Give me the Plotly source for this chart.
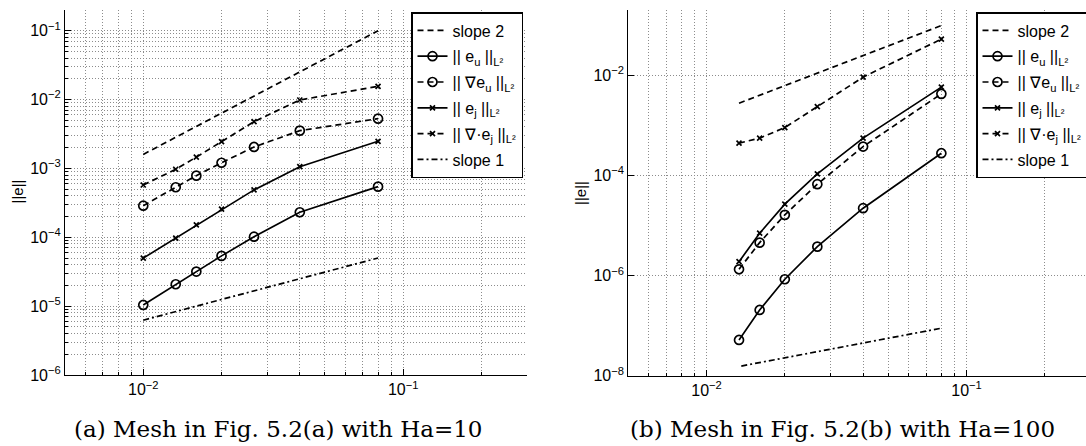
import math
import plotly.graph_objects as go

W, H = 1086, 446

# ---------------- data ----------------
h_a = [0.01, 0.01333, 0.016, 0.02, 0.02667, 0.04, 0.08]
eu_a = [1.04e-5, 2.08e-5, 3.18e-5, 5.37e-5, 1.02e-4, 2.31e-4, 5.44e-4]
geu_a = [2.88e-4, 5.33e-4, 7.86e-4, 1.21e-3, 2.05e-3, 3.54e-3, 5.28e-3]
ej_a = [4.98e-5, 9.7e-5, 1.51e-4, 2.56e-4, 4.88e-4, 1.06e-3, 2.48e-3]
dej_a = [5.75e-4, 9.73e-4, 1.46e-3, 2.45e-3, 4.78e-3, 9.86e-3, 1.56e-2]
s2_x_a = [0.01, 0.08]
s2_y_a = [1.6e-3, 0.1]
s1_x_a = [0.01, 0.08]
s1_y_a = [6.25e-6, 5.0e-5]

h_b = [0.01333, 0.016, 0.02, 0.02667, 0.04, 0.08]
eu_b = [5.18e-8, 2.06e-7, 8.47e-7, 3.8e-6, 2.23e-5, 2.8e-4]
geu_b = [1.34e-6, 4.57e-6, 1.64e-5, 6.73e-5, 3.8e-4, 4.3e-3]
ej_b = [1.9e-6, 7.05e-6, 2.68e-5, 1.08e-4, 5.6e-4, 5.86e-3]
dej_b = [4.45e-4, 5.6e-4, 9.1e-4, 2.4e-3, 9.3e-3, 5.35e-2]
s2_x_b = [0.01333, 0.08]
s2_y_b = [2.8e-3, 0.1]
s1_x_b = [0.0136, 0.08]
s1_y_b = [1.56e-8, 8.9e-8]

names = ["slope 2",
         "|| e<sub>u</sub> ||<sub>L²</sub>",
         "|| ∇e<sub>u</sub> ||<sub>L²</sub>",
         "|| e<sub>j</sub> ||<sub>L²</sub>",
         "|| ∇·e<sub>j</sub> ||<sub>L²</sub>",
         "slope 1"]

x_ticks = [0.01, 0.1]
x_ticktext = ["10<sup>−2</sup>", "10<sup>−1</sup>"]
ya_ticks = [1e-6, 1e-5, 1e-4, 1e-3, 1e-2, 1e-1]
ya_ticktext = ["10<sup>−6</sup>", "10<sup>−5</sup>", "10<sup>−4</sup>",
               "10<sup>−3</sup>", "10<sup>−2</sup>", "10<sup>−1</sup>"]
yb_ticks = [1e-8, 1e-6, 1e-4, 1e-2]
yb_ticktext = ["10<sup>−8</sup>", "10<sup>−6</sup>", "10<sup>−4</sup>", "10<sup>−2</sup>"]

captions = ["(a) Mesh in Fig. 5.2(a) with Ha=10", "(b) Mesh in Fig. 5.2(b) with Ha=100"]
ylabel = "||e||"

# ---------------- styling ----------------
SANS = "Liberation Sans, Arial, Helvetica, sans-serif"
SERIF = "DejaVu Serif, serif"
DASH = "6px,4px"
DASHDOT = "6px,3px,2px,3px"
LW = 1.7
GRID = "#8c8c8c"
GDASH = "1px,2px"

fig = go.Figure()


def add(x, y, name, dash, symbol, xa, ya, legend, gid):
    kw = dict(x=x, y=y, name=name, xaxis=xa, yaxis=ya, legend=legend,
              legendgroup=gid,
              line=dict(color="black", width=LW, dash=dash))
    if symbol is None:
        kw["mode"] = "lines"
    else:
        kw["mode"] = "lines+markers"
        if symbol == "o":
            kw["marker"] = dict(symbol="circle-open", size=9, color="black",
                                line=dict(color="black", width=LW))
        else:
            kw["marker"] = dict(symbol="x-thin-open", size=5, color="black",
                                line=dict(color="black", width=LW))
    fig.add_trace(go.Scatter(**kw))


panels = [
    ("x", "y", "legend", h_a, eu_a, geu_a, ej_a, dej_a, s2_x_a, s2_y_a, s1_x_a, s1_y_a),
    ("x2", "y2", "legend2", h_b, eu_b, geu_b, ej_b, dej_b, s2_x_b, s2_y_b, s1_x_b, s1_y_b),
]
for k, (xa, ya, lg, h, eu, geu, ej, dej, s2x, s2y, s1x, s1y) in enumerate(panels):
    add(s2x, s2y, names[0], DASH, None, xa, ya, lg, f"g{k}0")
    add(h, eu, names[1], "solid", "o", xa, ya, lg, f"g{k}1")
    add(h, geu, names[2], DASH, "o", xa, ya, lg, f"g{k}2")
    add(h, ej, names[3], "solid", "x", xa, ya, lg, f"g{k}3")
    add(h, dej, names[4], DASH, "x", xa, ya, lg, f"g{k}4")
    add(s1x, s1y, names[5], DASHDOT, None, xa, ya, lg, f"g{k}5")


def minor_vals(lo_exp, hi_exp, extra=()):
    v = []
    for e in range(lo_exp, hi_exp + 1):
        for m in range(2, 10):
            v.append(m * 10.0 ** e)
    return v + list(extra)


def xaxis(domain, rng):
    return dict(type="log", domain=domain, range=rng,
                tickmode="array", tickvals=x_ticks, ticktext=x_ticktext,
                showgrid=True, gridcolor=GRID, griddash=GDASH, gridwidth=1,
                minor=dict(tickmode="array", tickvals=minor_vals(-3, -2, [0.2, 0.3]),
                           showgrid=True, gridcolor=GRID, griddash=GDASH, gridwidth=1,
                           ticks="inside", ticklen=3, tickcolor="black"),
                showline=True, linecolor="black", linewidth=1.2,
                ticks="inside", ticklen=6, tickcolor="black",
                zeroline=False, mirror=False,
                tickfont=dict(family=SANS, size=16, color="black"))


y_top = (H - 10) / H
y_bot_a = (H - 375) / H
y_bot_b = (H - 375.7) / H

fig.update_layout(
    width=W, height=H,
    margin=dict(l=0, r=0, t=0, b=0, autoexpand=False),
    paper_bgcolor="white", plot_bgcolor="white",
    font=dict(family=SANS, size=16, color="black"),
    xaxis=xaxis([65 / W, 527.3 / W], [math.log10(0.005), math.log10(0.3)]),
    xaxis2=dict(xaxis([628.3 / W, 1.0], [math.log10(0.005), -0.5406]), anchor="y2"),
    yaxis=dict(type="log", domain=[y_bot_a, y_top], range=[-6, math.log10(0.2)],
               tickmode="array", tickvals=ya_ticks, ticktext=ya_ticktext,
               showgrid=True, gridcolor=GRID, griddash=GDASH, gridwidth=1,
               minor=dict(tickmode="array", tickvals=minor_vals(-6, -2, [0.2]),
                          showgrid=True, gridcolor=GRID, griddash=GDASH, gridwidth=1,
                          ticks="inside", ticklen=3, tickcolor="black"),
               showline=True, linecolor="black", linewidth=1.2,
               ticks="inside", ticklen=6, tickcolor="black",
               zeroline=False, anchor="x",
               tickfont=dict(family=SANS, size=16, color="black")),
    yaxis2=dict(type="log", domain=[y_bot_b, y_top], range=[-8, -0.69],
                tickmode="array", tickvals=yb_ticks, ticktext=yb_ticktext,
                showgrid=True, gridcolor=GRID, griddash=GDASH, gridwidth=1,
                showline=True, linecolor="black", linewidth=1.2,
                ticks="inside", ticklen=6, tickcolor="black",
                zeroline=False, anchor="x2",
                tickfont=dict(family=SANS, size=16, color="black")),
    legend=dict(x=411 / W, y=(H - 12) / H, xanchor="left", yanchor="top",
                bgcolor="white", bordercolor="black", borderwidth=1.5,
                font=dict(family=SANS, size=16, color="black"),
                tracegroupgap=2, itemwidth=30),
    legend2=dict(x=976 / W, y=(H - 12) / H, xanchor="left", yanchor="top",
                 bgcolor="white", bordercolor="black", borderwidth=1.5,
                 font=dict(family=SANS, size=16, color="black"),
                 tracegroupgap=2, itemwidth=30),
    showlegend=True,
)

annotations = [
    dict(text=captions[0], x=278 / W, y=(H - 428.5) / H, xref="paper", yref="paper",
         xanchor="center", yanchor="middle", showarrow=False,
         font=dict(family=SERIF, size=23, color="black")),
    dict(text=captions[1], x=842 / W, y=(H - 428.5) / H, xref="paper", yref="paper",
         xanchor="center", yanchor="middle", showarrow=False,
         font=dict(family=SERIF, size=23, color="black")),
    dict(text=ylabel, x=16.5 / W, y=(H - 192) / H, xref="paper", yref="paper",
         xanchor="center", yanchor="middle", showarrow=False, textangle=-90,
         font=dict(family=SANS, size=15, color="black")),
    dict(text=ylabel, x=580 / W, y=(H - 193) / H, xref="paper", yref="paper",
         xanchor="center", yanchor="middle", showarrow=False, textangle=-90,
         font=dict(family=SANS, size=15, color="black")),
]
fig.update_layout(annotations=annotations)

fig.write_html("out.html")
